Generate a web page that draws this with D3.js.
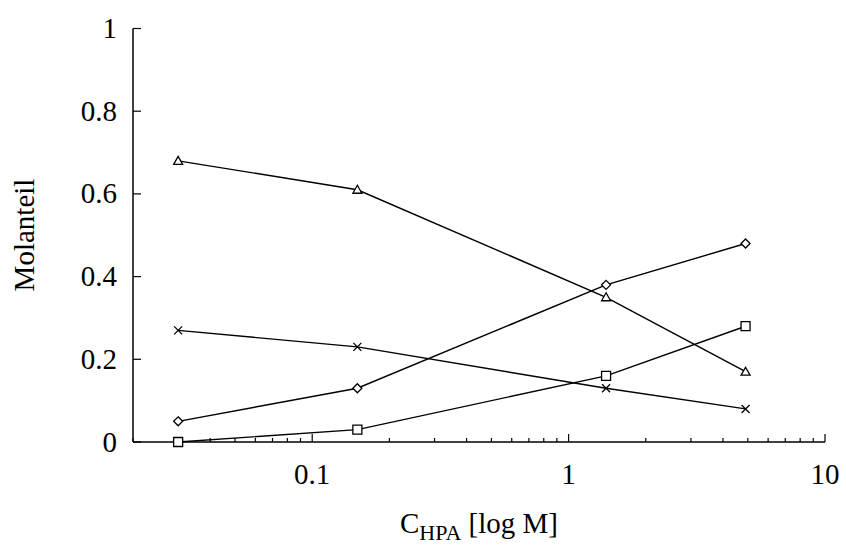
<!DOCTYPE html>
<html>
<head>
<meta charset="utf-8">
<script src="https://cdn.jsdelivr.net/npm/d3@7/dist/d3.min.js"></script>
<style>
  html, body { margin: 0; padding: 0; background: #fff; }
  svg { display: block; }
  text { font-family: "Liberation Serif", "Times New Roman", serif; fill: #000; }
</style>
</head>
<body>
<svg id="chart" width="846" height="545"></svg>
<script>
// Concentration (M) at which each mole fraction was measured
const concentrations = [0.03, 0.15, 1.4, 4.9];

// Mole fractions of the four species
const triangleSeries = [0.68, 0.61, 0.35, 0.17];
const diamondSeries  = [0.05, 0.13, 0.38, 0.48];
const crossSeries    = [0.27, 0.23, 0.13, 0.08];
const squareSeries   = [0.00, 0.03, 0.16, 0.28];

const xTickValues = [0.1, 1, 10];
const xTickLabels = ["0.1", "1", "10"];
const yTickValues = [0, 0.2, 0.4, 0.6, 0.8, 1];
const yTickLabels = ["0", "0.2", "0.4", "0.6", "0.8", "1"];

const series = [
  { name: "triangle", values: triangleSeries, symbol: "triangle" },
  { name: "diamond",  values: diamondSeries,  symbol: "diamond" },
  { name: "cross",    values: crossSeries,    symbol: "cross" },
  { name: "square",   values: squareSeries,   symbol: "square" }
];

const svg = d3.select("#chart");
const mLeft = 133, mRight = 825, mTop = 28.5, mBottom = 442;
const fontSize = 29;

const x = d3.scaleLog().domain([0.02, 10]).range([mLeft, mRight]);
const y = d3.scaleLinear().domain([0, 1]).range([mBottom, mTop]);

// Minor log ticks between 0.02 and 10
const minorTicks = x.ticks().filter(t => !xTickValues.some(v => Math.abs(v - t) < 1e-9));

const g = svg.append("g");

// Bottom axis line
g.append("line").attr("x1", mLeft).attr("x2", mRight).attr("y1", mBottom).attr("y2", mBottom)
  .attr("stroke", "#000").attr("stroke-width", 1.5);

// Ticks point up into the plot
g.selectAll(".xmajor").data(xTickValues).join("line").attr("class", "xmajor")
  .attr("x1", d => x(d)).attr("x2", d => x(d))
  .attr("y1", mBottom).attr("y2", mBottom - 8)
  .attr("stroke", "#000").attr("stroke-width", 1.2);
g.selectAll(".xminor").data(minorTicks).join("line").attr("class", "xminor")
  .attr("x1", d => x(d)).attr("x2", d => x(d))
  .attr("y1", mBottom).attr("y2", mBottom - 4)
  .attr("stroke", "#000").attr("stroke-width", 1.2);

g.selectAll(".xlabel").data(xTickValues).join("text").attr("class", "xlabel")
  .attr("x", d => x(d)).attr("y", 484)
  .attr("text-anchor", "middle").attr("font-size", fontSize)
  .text((d, i) => xTickLabels[i]);

// Left axis: ticks point right into the plot
g.append("line").attr("x1", mLeft).attr("x2", mLeft).attr("y1", mBottom).attr("y2", mTop)
  .attr("stroke", "#000").attr("stroke-width", 1.5);
g.selectAll(".ytick").data(yTickValues).join("line").attr("class", "ytick")
  .attr("x1", mLeft).attr("x2", mLeft + 8)
  .attr("y1", d => y(d)).attr("y2", d => y(d))
  .attr("stroke", "#000").attr("stroke-width", 1.2);
g.selectAll(".ylabel").data(yTickValues).join("text").attr("class", "ylabel")
  .attr("x", 117).attr("y", d => y(d))
  .attr("dy", "0.33em")
  .attr("text-anchor", "end").attr("font-size", fontSize)
  .text((d, i) => yTickLabels[i]);

// Axis titles
svg.append("text")
  .attr("transform", "translate(34,235) rotate(-90)")
  .attr("text-anchor", "middle").attr("font-size", fontSize)
  .text("Molanteil");

const xt = svg.append("text").attr("x", 479).attr("y", 533)
  .attr("text-anchor", "middle").attr("font-size", fontSize);
xt.append("tspan").text("C");
xt.append("tspan").attr("font-size", 22).attr("dy", 7).text("HPA");
xt.append("tspan").attr("dy", -7).text(" [log M]");

// Lines
const line = d3.line().x((d, i) => x(concentrations[i])).y(d => y(d));
const plot = svg.append("g");
series.forEach(s => {
  plot.append("path").datum(s.values)
    .attr("d", line).attr("fill", "none")
    .attr("stroke", "#000").attr("stroke-width", 1.4);
});

// Marker outlines centred on each point
const symbolPath = {
  triangle: "M0,-4.5L4.5,3.5L-4.5,3.5Z",
  diamond:  "M0,-4.5L4.5,0L0,4.5L-4.5,0Z",
  cross:    "M-4,-4L4,4M-4,4L4,-4",
  square:   "M-4.5,-4.5H4.5V4.5H-4.5Z"
};
series.forEach(s => {
  plot.selectAll(null).data(s.values).join("path")
    .attr("transform", (d, i) => `translate(${x(concentrations[i])},${y(d)})`)
    .attr("d", symbolPath[s.symbol])
    .attr("fill", s.symbol === "cross" ? "none" : "#fff")
    .attr("stroke", "#000").attr("stroke-width", 1.3);
});
</script>
</body>
</html>
